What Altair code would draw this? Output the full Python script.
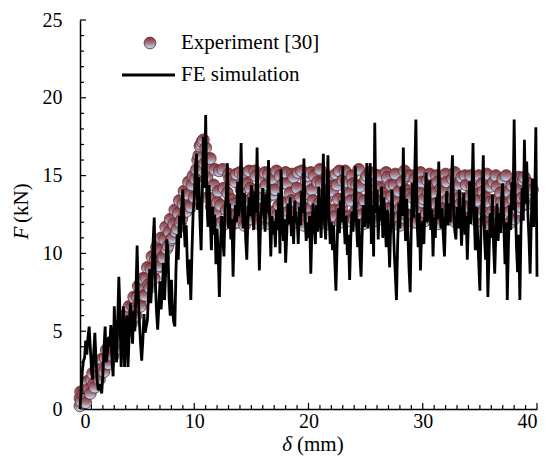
import altair as alt
import pandas as pd

# ---------------- data ----------------
# Experiment [30]: displacement (mm) / force (kN)
exp_start_x = [0.0, 0.0, 0.05, 0.1]
exp_start_f = [0.2, 0.7, 1.1, 0.5]
# samples at x = 0.2, 0.4, ... 39.6
exp_f = [
    1.0, 0.8, 1.5, 1.3, 1.9, 1.6, 2.4, 2.2, 2.9, 2.6,
    3.3, 2.9, 3.8, 3.5, 4.4, 4.0, 5.0, 4.6, 5.5, 5.2,
    6.1, 5.7, 6.6, 6.3, 7.2, 6.9, 7.8, 7.3, 8.4, 8.0,
    9.0, 8.5, 9.6, 9.1, 10.2, 9.8, 10.9, 10.3, 11.4, 10.9,
    11.9, 11.4, 12.6, 12.0, 13.2, 12.7, 13.8, 13.1, 14.4, 13.6,
    15.4, 16.3, 17.0, 17.3, 16.8, 13.6, 16.1, 12.4, 15.4, 13.3,
    15.3, 12.0, 14.2, 12.8, 15.1, 13.5, 11.9, 14.6, 12.6, 15.2,
    13.2, 11.8, 14.5, 15.3, 12.4, 13.7, 15.0, 12.1, 14.3, 12.9,
    15.2, 13.6, 11.9, 14.8, 12.7, 15.3, 13.1, 12.0, 14.5, 15.2,
    12.5, 13.9, 15.1, 12.0, 14.2, 13.0, 15.3, 11.8, 14.7, 12.9,
    15.2, 13.4, 12.1, 14.6, 15.4, 12.6, 13.8, 15.0, 11.9, 14.3,
    12.8, 15.1, 13.5, 12.0, 14.7, 15.3, 12.4, 13.9, 15.0, 12.2,
    14.4, 15.4, 13.0, 11.9, 14.8, 12.6, 15.2, 13.6, 12.1, 14.6,
    15.0, 12.7, 13.9, 15.2, 12.2, 14.4, 12.9, 15.1, 13.4, 11.8,
    14.6, 15.3, 12.5, 13.8, 15.0, 12.0, 14.3, 12.8, 15.2, 13.3,
    12.1, 14.7, 15.1, 12.6, 13.9, 15.0, 11.9, 14.2, 12.9, 15.1,
    13.5, 12.2, 14.8, 15.2, 12.7, 13.6, 14.9, 12.0, 14.4, 13.0,
    15.0, 12.4, 13.8, 14.9, 12.1, 14.5, 12.8, 15.1, 13.3, 11.8,
    14.6, 15.0, 12.5, 13.9, 14.8, 11.7, 14.0, 12.7, 14.4, 12.2,
    13.6, 14.9, 13.0, 14.7, 13.5, 14.3, 13.8, 14.1,
]
# samples at x = 0.3, 0.5, ... 39.5
exp_mid_f = [
    0.9, 0.4, 1.8, 1.0, 2.3, 1.4, 2.8, 1.9, 3.2, 2.4,
    3.8, 2.9, 4.3, 3.4, 4.9, 3.9, 5.4, 4.4, 6.0, 5.0,
    6.6, 5.5, 7.2, 6.0, 7.9, 6.6, 8.4, 7.3, 9.1, 7.8,
    9.8, 8.4, 10.4, 9.2, 11.0, 9.7, 11.7, 10.5, 12.2, 11.0,
    12.8, 11.6, 13.4, 12.2, 14.0, 12.7, 14.6, 13.0, 15.0,
    14.8, 16.0, 16.9, 17.2, 15.8, 14.9, 15.6, 13.0, 14.4, 12.6,
    14.0, 13.1, 15.4, 11.9, 13.9, 14.8, 12.4, 13.2, 15.1, 12.0,
    14.1, 15.0, 12.6, 13.4, 14.2, 12.2, 15.3, 13.8, 11.9, 14.8,
    12.4, 14.4, 15.1, 12.3, 13.8, 14.1, 12.5, 15.0, 13.3, 12.1,
    14.5, 12.7, 13.4, 14.9, 12.4, 15.2, 13.6, 12.2, 13.8, 15.0,
    12.3, 14.1, 15.0, 12.9, 13.2, 14.5, 12.0, 13.4, 14.8, 12.6,
    14.0, 12.4, 14.4, 15.3, 12.9, 13.4, 14.6, 12.1, 13.4, 14.5,
    12.7, 13.6, 14.3, 12.5, 13.4, 15.0, 12.3, 14.2, 15.1, 12.8,
    13.4, 14.2, 12.2, 13.6, 14.9, 12.9, 13.7, 14.4, 12.3, 14.0,
    13.0, 12.3, 14.1, 15.0, 12.4, 13.6, 14.8, 12.0, 13.9, 14.6,
    13.5, 12.6, 13.9, 14.3, 12.1, 13.2, 14.6, 12.8, 13.6, 14.0,
    14.6, 12.9, 13.5, 14.1, 12.0, 14.4, 13.2, 12.5, 15.0, 12.3,
    13.7, 14.3, 12.2, 13.4, 15.0, 12.6, 14.0, 13.6, 12.0, 14.3,
    12.7, 13.4, 14.3, 12.0, 13.3, 12.6, 15.0, 13.2, 12.0, 13.5,
    14.6, 12.8, 14.1, 13.6, 14.9, 13.2, 14.5, 13.9,
]
exp_step = 0.2

# FE simulation: force (kN) sampled every 0.1 mm from 0 to 40 mm
fe_step = 0.1
fe_f = [
    0.0, 1.2, 2.4, 3.1, 3.3, 4.4, 3.5, 4.6, 5.3, 4.0,
    2.6, 1.9, 3.6, 4.9, 3.2, 1.8, 1.2, 1.6, 1.3, 1.0,
    2.2, 3.9, 5.3, 3.0, 3.6, 4.6, 4.0, 5.4, 3.1, 2.1,
    6.6, 4.4, 3.0, 5.6, 8.5, 6.2, 2.7, 4.5, 6.6, 2.7,
    4.8, 6.0, 2.7, 4.6, 6.8, 5.9, 4.2, 6.3, 5.0, 7.6,
    10.5, 7.2, 5.6, 4.2, 3.1, 4.4, 6.1, 4.9, 5.3, 5.7,
    7.4, 9.0, 6.8, 8.3, 10.8, 12.3, 8.1, 6.2, 5.1, 6.6,
    8.2, 6.4, 7.6, 9.4, 7.0, 8.8, 10.9, 10.2, 7.1, 6.0,
    8.3, 6.4, 5.6, 5.3, 8.9, 11.2, 9.6, 12.4, 11.0, 12.9,
    14.1, 12.0, 10.4, 11.8, 9.2, 8.0, 9.6, 7.0, 10.1, 12.6,
    13.5, 15.6, 16.4, 12.8, 14.9, 12.1, 10.2, 13.7, 17.5, 14.2,
    18.9, 13.6, 11.7, 14.4, 12.2, 10.2, 13.0, 11.2, 12.5, 9.3,
    11.6, 9.8, 7.2, 10.6, 12.4, 11.0, 9.8, 12.9, 13.6, 15.8,
    11.6, 13.2, 10.9, 12.2, 8.5, 11.6, 13.1, 12.0, 14.6, 12.4,
    13.5, 17.1, 12.8, 11.6, 13.9, 11.0, 9.6, 12.3, 13.6, 12.4,
    14.4, 12.7, 11.5, 14.0, 12.6, 16.8, 12.2, 8.9, 11.8, 13.0,
    14.2, 12.9, 11.4, 13.8, 12.6, 16.0, 12.5, 9.8, 12.4, 11.2,
    12.1, 10.4, 12.8, 11.5, 13.9, 10.0, 15.4, 12.6, 10.8, 12.2,
    9.4, 11.3, 13.2, 11.9, 13.6, 11.1, 12.4, 10.6, 13.4, 12.0,
    12.3, 10.6, 13.0, 11.8, 14.0, 12.6, 16.1, 12.4, 10.8, 12.0,
    11.0, 12.4, 8.7, 11.5, 13.2, 11.9, 10.6, 13.1, 11.4, 14.3,
    12.8, 11.0, 13.4, 16.4, 12.1, 10.9, 13.3, 16.3, 12.4, 10.6,
    12.0, 10.2, 11.8, 9.5, 7.6, 10.4, 12.9, 11.3, 13.4, 12.0,
    15.6, 12.2, 10.6, 12.4, 9.9, 11.2, 8.3, 11.0, 12.7, 11.4,
    13.0, 15.6, 11.9, 10.4, 12.2, 9.9, 8.5, 11.3, 13.1, 11.7,
    12.4, 15.8, 11.6, 13.5, 15.8, 10.6, 13.1, 9.8, 18.4, 12.6,
    14.1, 10.9, 13.0, 12.1, 14.3, 11.0, 13.6, 12.2, 10.4, 12.8,
    11.2, 9.1, 11.9, 14.1, 12.5, 10.2, 8.6, 7.0, 10.5, 13.2,
    11.6, 14.3, 12.4, 16.8, 12.9, 10.8, 13.5, 11.2, 9.0, 7.5,
    11.8, 14.5, 12.3, 15.2, 18.6, 12.1, 10.4, 12.6, 8.9, 11.4,
    12.1, 10.6, 13.4, 15.2, 12.0, 13.3, 14.7, 11.5, 12.8, 9.8,
    12.3, 11.0, 13.6, 12.2, 15.9, 13.1, 11.6, 12.9, 11.1, 9.8,
    12.5, 14.0, 11.8, 13.2, 12.0, 14.4, 16.3, 12.7, 11.5, 10.9,
    13.0, 11.6, 14.1, 12.3, 10.5, 12.8, 13.9, 11.2, 12.4, 9.6,
    12.1, 14.6, 11.9, 13.6, 17.1, 12.5, 10.2, 13.0, 11.3, 9.4,
    7.6, 11.8, 13.4, 16.3, 11.1, 9.6, 11.5, 7.2, 9.9, 12.6,
    11.0, 13.8, 10.5, 8.7, 11.4, 13.2, 10.8, 12.6, 11.3, 13.5,
    14.5, 11.7, 9.3, 12.0, 7.0, 10.6, 13.1, 11.5, 14.6, 12.8,
    18.6, 13.4, 10.5, 8.8, 11.2, 7.0, 11.6, 14.2, 12.1, 17.3,
    13.2, 15.9, 12.6, 10.9, 8.7, 12.1, 14.8, 11.7, 13.6, 18.1,
    8.5,
]

x_major = [0, 10, 20, 30, 40]
x_minor = [v for v in range(0, 41) if v % 10 != 0]
y_major = [0, 5, 10, 15, 20, 25]
y_minor = [v for v in range(0, 26) if v % 5 != 0]

legend_labels = ["Experiment [30]", "FE simulation"]

# ---------------- tables ----------------
exp_x = (exp_start_x
         + [round(0.2 + exp_step * i, 2) for i in range(len(exp_f))]
         + [round(0.3 + exp_step * i, 2) for i in range(len(exp_mid_f))])
exp_df = pd.DataFrame({"x": exp_x, "f": exp_start_f + exp_f + exp_mid_f})
exp_df = exp_df.sort_values("x", kind="stable").reset_index(drop=True)
exp_df["order"] = range(len(exp_df))

fe_df = pd.DataFrame({
    "x": [round(fe_step * i, 2) for i in range(len(fe_f))],
    "f": fe_f,
})

W, H = 457, 389
FONT = "'Liberation Serif', 'Times New Roman', serif"
FS = 20

xs = alt.Scale(domain=[0, 40], nice=False, zero=False)
ys = alt.Scale(domain=[0, 25], nice=False, zero=False)

grad = {
    "gradient": "linear", "x1": 0, "y1": 0, "x2": 0, "y2": 1,
    "stops": [
        {"offset": 0.0, "color": "#7c3034"},
        {"offset": 0.5, "color": "#a47480"},
        {"offset": 0.85, "color": "#b6cde8"},
        {"offset": 1.0, "color": "#a2bfdd"},
    ],
}
STROKE = "#6a272b"

xaxis = alt.Axis(values=x_major, ticks=False, tickSize=0, grid=False, labelPadding=2,
                 domainColor="black", domainWidth=1.5, labelFont=FONT, labelFontSize=FS,
                 labelColor="black", title=None)
yaxis = alt.Axis(values=y_major, ticks=False, tickSize=0, grid=False, labelPadding=18,
                 domainColor="black", domainWidth=1.5, labelFont=FONT, labelFontSize=FS,
                 labelColor="black", title=None)

exp_layer = alt.Chart(exp_df).mark_circle(
    size=140, opacity=1, fill=grad, stroke=STROKE, strokeWidth=0.8
).encode(
    x=alt.X("x:Q", scale=xs, axis=xaxis),
    y=alt.Y("f:Q", scale=ys, axis=yaxis),
    order=alt.Order("order:Q"),
)

fe_layer = alt.Chart(fe_df).mark_line(color="black", strokeWidth=2.8).encode(
    x=alt.X("x:Q", scale=xs),
    y=alt.Y("f:Q", scale=ys),
)

def xticks(vals, length):
    return alt.Chart(pd.DataFrame({"x": vals})).mark_rule(color="black", strokeWidth=1.2).encode(
        x=alt.X("x:Q", scale=xs),
        y=alt.value(H), y2=alt.value(H - length),
    )

def yticks(vals, length):
    return alt.Chart(pd.DataFrame({"f": vals})).mark_rule(color="black", strokeWidth=1.2).encode(
        y=alt.Y("f:Q", scale=ys),
        x=alt.value(0), x2=alt.value(length),
    )

one = pd.DataFrame({"t": [0]})

def label(text, x, y, size=20, italic=False, angle=0, align="left"):
    return alt.Chart(one).mark_text(
        text=text, font=FONT, fontSize=size, fontStyle="italic" if italic else "normal",
        color="black", align=align, baseline="middle", angle=angle,
    ).encode(x=alt.value(x), y=alt.value(y))

leg_circle = alt.Chart(one).mark_circle(
    size=140, opacity=1, fill=grad, stroke=STROKE, strokeWidth=0.8
).encode(x=alt.value(70), y=alt.value(23))
leg_line = alt.Chart(one).mark_rule(color="black", strokeWidth=2.8).encode(
    x=alt.value(42), x2=alt.value(95), y=alt.value(55)
)
leg_t1 = label(legend_labels[0], 101, 23, size=21)
leg_t2 = label(legend_labels[1], 101, 55, size=21)

xt_it = label("δ", 207, 425, size=21, italic=True, align="center")
xt_rest = label("(mm)", 217, 425, size=21)
yt_it = label("F", -58, 213, size=21, italic=True, angle=270, align="center")
yt_rest = label("(kN)", -58, 203, size=21, angle=270)

chart = alt.layer(
    exp_layer, fe_layer,
    xticks(x_minor, 4), xticks(x_major, 6), yticks(y_minor, 4), yticks(y_major, 6),
    leg_circle, leg_line, leg_t1, leg_t2, xt_it, xt_rest, yt_it, yt_rest,
).properties(
    width=W, height=H,
    autosize=alt.AutoSizeParams(type="none"),
    padding={"left": 72, "top": 12, "right": 10, "bottom": 48},
).configure_view(stroke=None)

chart.save("out.html", embed_options={"renderer": "svg", "actions": False})
